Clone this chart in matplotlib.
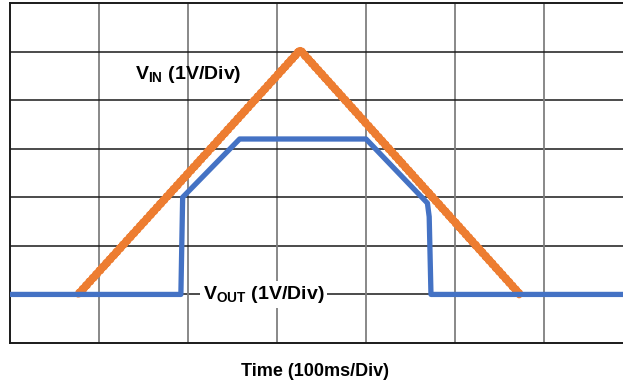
import matplotlib
matplotlib.use("Agg")
from matplotlib import pyplot as plt

plt.rcParams['font.family'] = ['Liberation Sans', 'DejaVu Sans']
plt.rcParams['mathtext.fontset'] = 'custom'
plt.rcParams['mathtext.rm'] = 'Liberation Sans'
plt.rcParams['mathtext.bf'] = 'Liberation Sans:bold'

# time in divisions (100ms/div), voltage in divisions (1V/div)
vin_t = [0.765, 3.26, 5.73]
vin_v = [1.0, 6.03, 1.0]

vout_t = [0.0, 1.92, 1.94, 2.58, 4.0, 4.69, 4.71, 4.73, 7.0]
vout_v = [1.0, 1.0, 3.0, 4.2, 4.2, 2.88, 2.6, 1.0, 1.0]

orange = '#ED7D31'
blue = '#4472C4'

fig = plt.figure(figsize=(6.23, 3.87), dpi=100)
ax = fig.add_axes([10 / 623, 44 / 387, 623 / 623, 340 / 387])
ax.set_xlim(0, 7)
ax.set_ylim(0, 7)

for i in range(1, 7):
    ax.axvline(i, color='#7f7f7f', lw=1.3, zorder=0)
    ax.axhline(i, color='#1a1a1a', lw=1.1, zorder=0)

vin_line, = ax.plot(vin_t, vin_v, color=orange, lw=4.6, solid_capstyle='round', zorder=2)
vin_line.set_sketch_params(scale=1.2, length=2.5, randomness=1)
ax.plot(vout_t, vout_v, color=blue, lw=3.8, solid_joinstyle='round', zorder=3)

ax.text(2.0, 5.52, r'$\mathbf{V_{IN}}$ (1V/Div)', fontsize=14, fontweight='bold',
        ha='center', va='center', zorder=4)
ax.text(2.17, 1.0, r'$\mathbf{V_{OUT}}$ (1V/Div)', fontsize=14, fontweight='bold',
        ha='left', va='center', zorder=4,
        bbox=dict(facecolor='white', edgecolor='none', pad=2))

for side in ['left', 'bottom', 'top']:
    ax.spines[side].set_color('#1a1a1a')
    ax.spines[side].set_linewidth(1.4)
ax.spines['right'].set_visible(False)
ax.set_xticks([])
ax.set_yticks([])

fig.text(315 / 623, 1 - 372 / 387, 'Time (100ms/Div)', fontsize=13, fontweight='bold',
         ha='center', va='center')

fig.savefig('out.png', dpi=100)
